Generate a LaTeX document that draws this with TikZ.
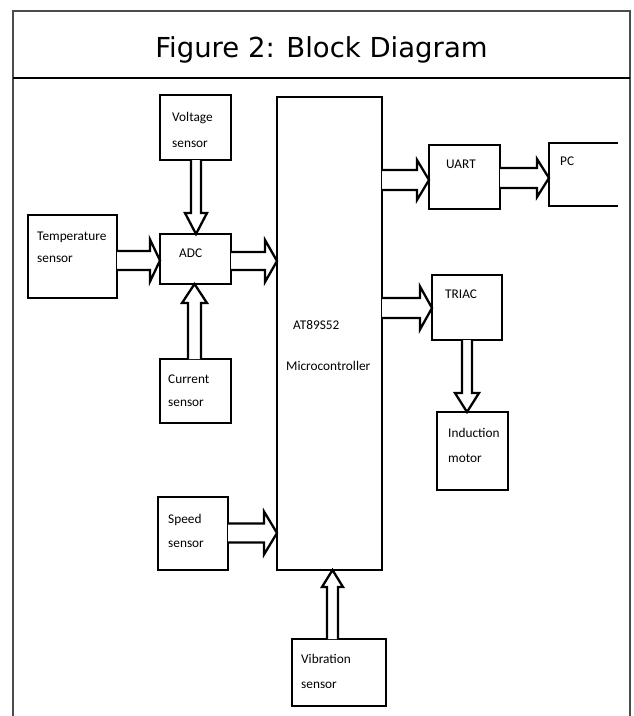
\documentclass[tikz,border=0pt]{standalone}
\usepackage{fontspec}
\newfontfamily\boxfont{Carlito}
\newfontfamily\titlefont{DejaVu Sans}
\usetikzlibrary{calc}
\tikzset{
  blk/.style={draw, line width=2.3pt, inner sep=0pt, outer sep=0pt, anchor=north west},
  lbl/.style={anchor=base west, inner sep=0pt, font=\boxfont\fontsize{13.3}{15}\selectfont},
  barrow/.style={draw, line width=2.3pt, fill=white, line join=miter},
  framel/.style={draw=black!70, line width=1.6pt},
}
% horizontal block arrow: start point, end point, y centre, shaft half, head half, head length
\newcommand\harrow[6]{%
  \draw[barrow] let \p1=(#1), \p2=(#2) in
    (\x1,{-(#3-#4)*1pt}) -- ({\x2-#6pt},{-(#3-#4)*1pt}) -- ({\x2-#6pt},{-(#3-#5)*1pt})
    -- (\x2,{-#3*1pt}) -- ({\x2-#6pt},{-(#3+#5)*1pt}) -- ({\x2-#6pt},{-(#3+#4)*1pt})
    -- (\x1,{-(#3+#4)*1pt});}
% vertical block arrow: start point, end point, x centre, shaft half, head half, head length
\newcommand\varrow[6]{%
  \draw[barrow] let \p1=(#1), \p2=(#2), \n1={sign(\y1-\y2)} in
    ({(#3-#4)*1pt},\y1) -- ({(#3-#4)*1pt},{\y2+\n1*#6pt}) -- ({(#3-#5)*1pt},{\y2+\n1*#6pt})
    -- ({#3*1pt},\y2) -- ({(#3+#5)*1pt},{\y2+\n1*#6pt}) -- ({(#3+#4)*1pt},{\y2+\n1*#6pt})
    -- ({(#3+#4)*1pt},\y1);}
\begin{document}
\begin{tikzpicture}[x=1pt,y=-1pt]
\useasboundingbox (0,0) rectangle (633,716);
% frame
\draw[framel] (13,716) -- (13,11) -- (630,11) -- (630,716);
\draw[line width=2pt] (13,78) -- (630,78);
\node[anchor=base, inner sep=0pt, font=\titlefont\fontsize{27.5}{30}\selectfont] (title) at (321.5,57) {Figure 2: Block Diagram};

% boxes
\node[blk, minimum width=71pt, minimum height=65pt] (volt) at (160,95) {};
\node[blk, minimum width=89pt, minimum height=83pt] (temp) at (28,215) {};
\node[blk, minimum width=71pt, minimum height=50pt] (adc) at (160,234) {};
\node[blk, minimum width=71pt, minimum height=64pt] (cur) at (160,359) {};
\node[blk, minimum width=70pt, minimum height=73pt] (speed) at (158,497) {};
\node[blk, minimum width=105pt, minimum height=473pt] (mcu) at (277,97) {};
\node[blk, minimum width=94pt, minimum height=67pt] (vib) at (292,639) {};
\node[blk, minimum width=71pt, minimum height=64pt] (uart) at (429,145) {};
\node[blk, draw=none, minimum width=69pt, minimum height=63pt] (pc) at (549,143) {};
\draw[line width=2.3pt] (pc.north east) -- (pc.north west) -- (pc.south west) -- (pc.south east);
\node[blk, minimum width=70pt, minimum height=65pt] (triac) at (432,275) {};
\node[blk, minimum width=71pt, minimum height=78pt] (ind) at (437,412) {};

% labels
\node[lbl] (voltA) at ([shift={(12,26)}]volt.north west) {Voltage};
\node[lbl] (voltB) at ([shift={(12,52)}]volt.north west) {sensor};
\node[lbl] (tempA) at ([shift={(9,25)}]temp.north west) {Temperature};
\node[lbl] (tempB) at ([shift={(9,47)}]temp.north west) {sensor};
\node[lbl] (adcA) at ([shift={(19,23)}]adc.north west) {ADC};
\node[lbl] (curA) at ([shift={(8,24)}]cur.north west) {Current};
\node[lbl] (curB) at ([shift={(8,47)}]cur.north west) {sensor};
\node[lbl] (speedA) at ([shift={(10,26)}]speed.north west) {Speed};
\node[lbl] (speedB) at ([shift={(10,50)}]speed.north west) {sensor};
\node[lbl] (mcuA) at ([shift={(16,232)}]mcu.north west) {AT89S52};
\node[lbl] (mcuB) at ([shift={(9,273)}]mcu.north west) {Microcontroller};
\node[lbl] (vibA) at ([shift={(9,24)}]vib.north west) {Vibration};
\node[lbl] (vibB) at ([shift={(9,49)}]vib.north west) {sensor};
\node[lbl] (uartA) at ([shift={(17,23)}]uart.north west) {UART};
\node[lbl] (pcA) at ([shift={(11,22)}]pc.north west) {PC};
\node[lbl] (triacA) at ([shift={(13,23)}]triac.north west) {TRIAC};
\node[lbl] (indA) at ([shift={(11,25)}]ind.north west) {Induction};
\node[lbl] (indB) at ([shift={(11,50)}]ind.north west) {motor};

% arrows
\harrow{temp.east}{adc.west}{260.5}{9.5}{21}{10}
\harrow{adc.east}{mcu.west}{261}{9}{21}{12}
\harrow{speed.east}{mcu.west}{533}{9.5}{21.5}{13}
\harrow{mcu.east}{uart.west}{180}{10}{20}{12}
\harrow{uart.east}{pc.west}{178}{10}{19}{12}
\harrow{mcu.east}{triac.west}{308}{10}{21.5}{12}
\varrow{volt.south}{adc.north}{196}{5}{11}{21}
\varrow{cur.north}{adc.south}{194.5}{6.5}{12.5}{19}
\varrow{triac.south}{ind.north}{467}{5}{12}{19}
\varrow{vib.north}{mcu.south}{332.5}{5.5}{10.5}{17}
\end{tikzpicture}
\end{document}
